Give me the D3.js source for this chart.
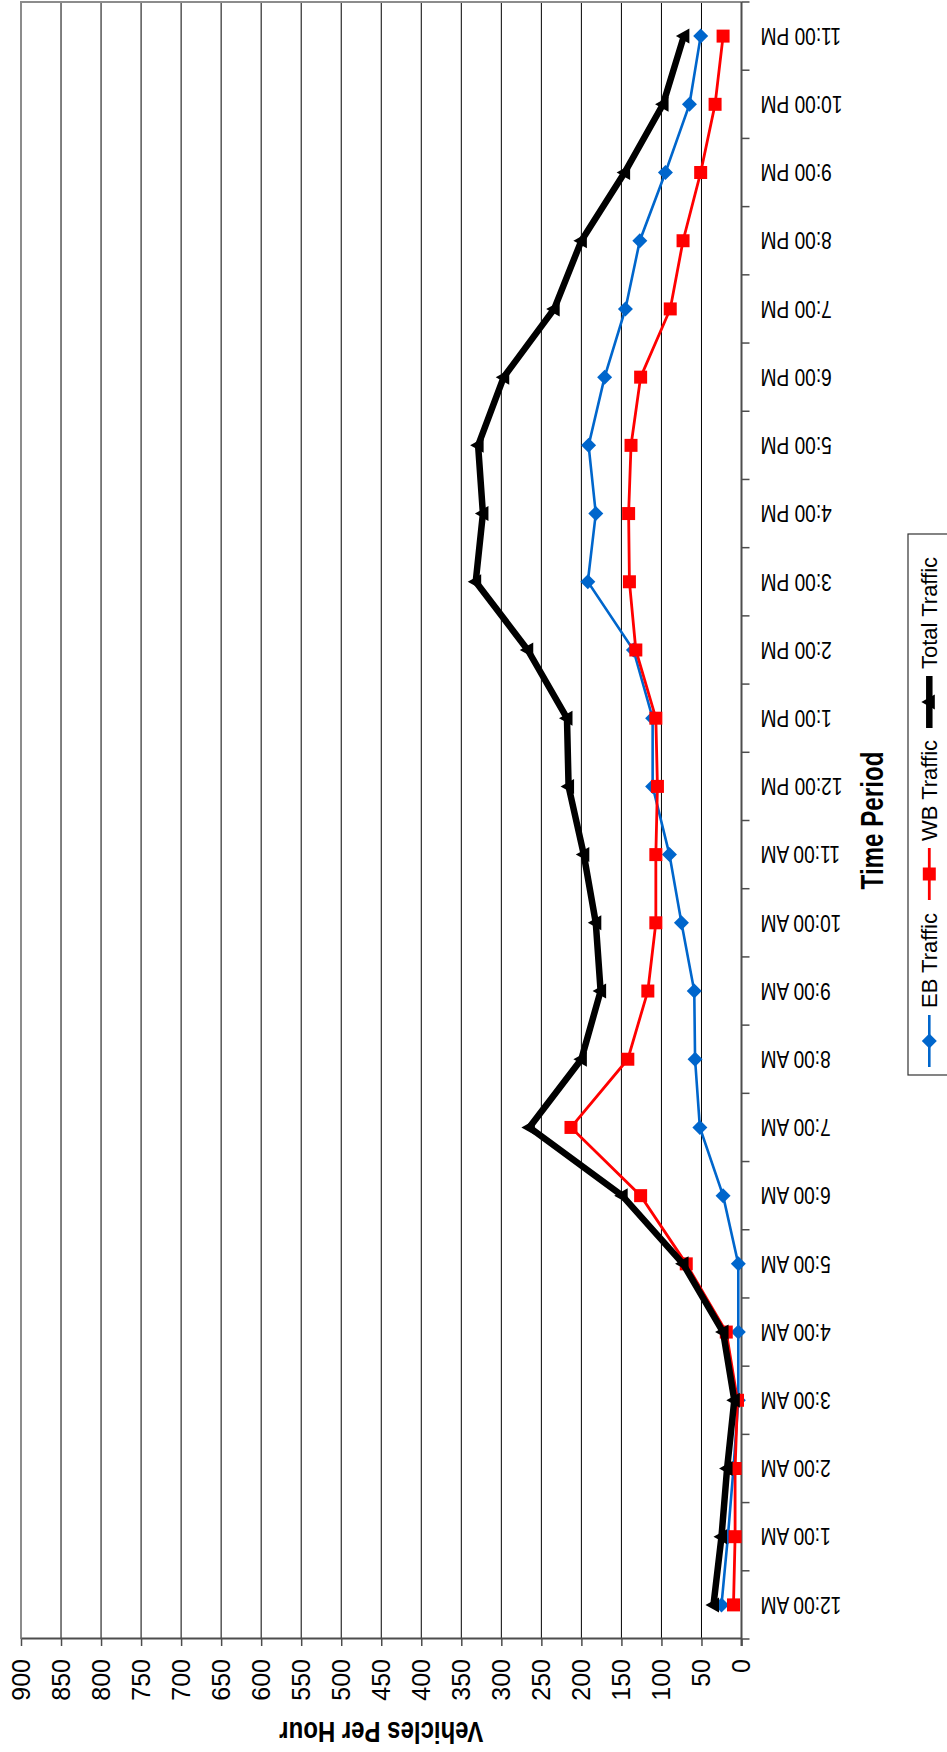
<!DOCTYPE html>
<html><head><meta charset="utf-8">
<script src="https://cdn.jsdelivr.net/npm/d3@7"></script>
<style>
html,body{margin:0;padding:0;background:#fff;}
svg{display:block;font-family:"Liberation Sans",Arial,sans-serif;}
</style></head>
<body>
<svg id="chart" width="947" height="1752"></svg>
<script>
const categories = ["12:00 AM","1:00 AM","2:00 AM","3:00 AM","4:00 AM","5:00 AM","6:00 AM","7:00 AM","8:00 AM","9:00 AM","10:00 AM","11:00 AM","12:00 PM","1:00 PM","2:00 PM","3:00 PM","4:00 PM","5:00 PM","6:00 PM","7:00 PM","8:00 PM","9:00 PM","10:00 PM","11:00 PM"];
const ebTraffic    = [25,17,10,4,4,4,23,52,58,59,75,90,111,111,135,192,182,191,171,145,127,95,65,51];
const wbTraffic    = [10,8,8,5,19,69,126,213,142,117,107,107,105,107,132,140,141,138,126,89,73,51,33,23];
const totalTraffic = [35,25,18,9,23,73,149,265,200,176,182,197,216,218,267,332,323,329,297,234,200,146,98,72];
const valueTicks = [0,50,100,150,200,250,300,350,400,450,500,550,600,650,700,750,800,850,900];
const seriesNames = ["EB Traffic","WB Traffic","Total Traffic"];

// The chart is drawn in a landscape frame (W x H) and rotated -90deg onto the page.
const W = 1752, H = 947;
const svg = d3.select("#chart");
svg.append("rect").attr("width",947).attr("height",1752).attr("fill","#fff");
const g = svg.append("g").attr("transform",`translate(0,${W}) rotate(-90)`);

const plot = {left:113, right:1750, top:21, bottom:741.5};
const x = d3.scaleBand().domain(categories).range([plot.left, plot.right]).padding(0);
const y = d3.scaleLinear().domain([0,900]).range([plot.bottom, plot.top]);
const cx = c => x(c) + x.bandwidth()/2;

// gridlines
g.append("g").selectAll("line").data(valueTicks.filter(v=>v>0 && v<900)).join("line")
  .attr("x1",plot.left).attr("x2",plot.right)
  .attr("y1",d=>y(d)).attr("y2",d=>y(d))
  .attr("stroke","#000").attr("stroke-width",1);

// plot border (top & right)
g.append("path")
  .attr("d",`M${plot.left},${plot.top}H${plot.right}V${plot.bottom}`)
  .attr("fill","none").attr("stroke","#8c8c8c").attr("stroke-width",2);

// value axis
const yAxis = d3.axisLeft(y).tickValues(valueTicks).tickSize(7).tickPadding(13).tickSizeOuter(0);
const ya = g.append("g").attr("transform",`translate(${plot.left},0)`).call(yAxis);
ya.select(".domain").attr("stroke","#4d4d4d").attr("stroke-width",2);
ya.selectAll(".tick line").attr("stroke","#4d4d4d").attr("stroke-width",1.5);
ya.selectAll(".tick text").attr("font-size","25px").attr("fill","#000")
  .attr("font-family","'Liberation Sans',Arial,sans-serif");

// time axis
g.append("line").attr("x1",plot.left-7).attr("x2",plot.right)
  .attr("y1",plot.bottom).attr("y2",plot.bottom)
  .attr("stroke","#4d4d4d").attr("stroke-width",2);
const bounds = categories.map(c=>x(c)).concat([plot.right]);
g.append("g").selectAll("line").data(bounds).join("line")
  .attr("x1",d=>d).attr("x2",d=>d).attr("y1",plot.bottom).attr("y2",plot.bottom+8)
  .attr("stroke","#4d4d4d").attr("stroke-width",1.5);
g.append("g").selectAll("text").data(categories).join("text")
  .attr("transform",d=>`translate(${cx(d)},${plot.bottom+19}) rotate(-90) scale(0.815,1)`)
  .attr("text-anchor","end").attr("dy","0.35em")
  .attr("font-size","23.5px").attr("fill","#000")
  .text(d=>d);

// axis titles
g.append("text")
  .attr("transform",`translate(30,${(plot.top+plot.bottom)/2}) rotate(-90) scale(0.8,1)`)
  .attr("text-anchor","middle").attr("font-weight","bold").attr("font-size","30px")
  .text("Vehicles Per Hour");
g.append("text")
  .attr("transform",`translate(${(plot.left+plot.right)/2},883) scale(0.78,1)`)
  .attr("text-anchor","middle").attr("font-weight","bold").attr("font-size","31px")
  .text("Time Period");

// series
const series = [
  {name:seriesNames[0], values:ebTraffic, color:"#0066CC", width:2.6, marker:"diamond"},
  {name:seriesNames[1], values:wbTraffic, color:"#FF0000", width:2.8, marker:"square"},
  {name:seriesNames[2], values:totalTraffic, color:"#000000", width:6.5, marker:"triangle"}
];
const markerPath = {
  diamond: "M0,-7.5L7.5,0L0,7.5L-7.5,0Z",
  square: "M-6.5,-6.5H6.5V6.5H-6.5Z",
  triangle: "M0,-8L7.5,5.5L-7.5,5.5Z"
};
const line = d3.line().x((d,i)=>cx(categories[i])).y(d=>y(d));
series.forEach(s=>{
  const sg = g.append("g");
  sg.append("path").attr("d",line(s.values)).attr("fill","none")
    .attr("stroke",s.color).attr("stroke-width",s.width).attr("stroke-linejoin","miter");
  sg.selectAll("path.m").data(s.values).join("path").attr("class","m")
    .attr("transform",(d,i)=>`translate(${cx(categories[i])},${y(d)})`)
    .attr("d",markerPath[s.marker]).attr("fill",s.color);
});

// legend
const leg = g.append("g");
leg.append("rect").attr("x",677).attr("y",908).attr("width",541).attr("height",60)
  .attr("fill","#fff").attr("stroke","#333").attr("stroke-width",1.2);
const legX = [685, 852, 1024];
series.forEach((s,i)=>{
  const lx = legX[i];
  leg.append("line").attr("x1",lx).attr("x2",lx+52).attr("y1",929.3).attr("y2",929.3)
    .attr("stroke",s.color).attr("stroke-width",s.width);
  leg.append("path").attr("transform",`translate(${lx+26},929.3)`)
    .attr("d",markerPath[s.marker]).attr("fill",s.color);
  leg.append("text").attr("x",lx+59).attr("y",937).attr("font-size","22px").attr("fill","#000")
    .text(s.name);
});
</script>
</body></html>
